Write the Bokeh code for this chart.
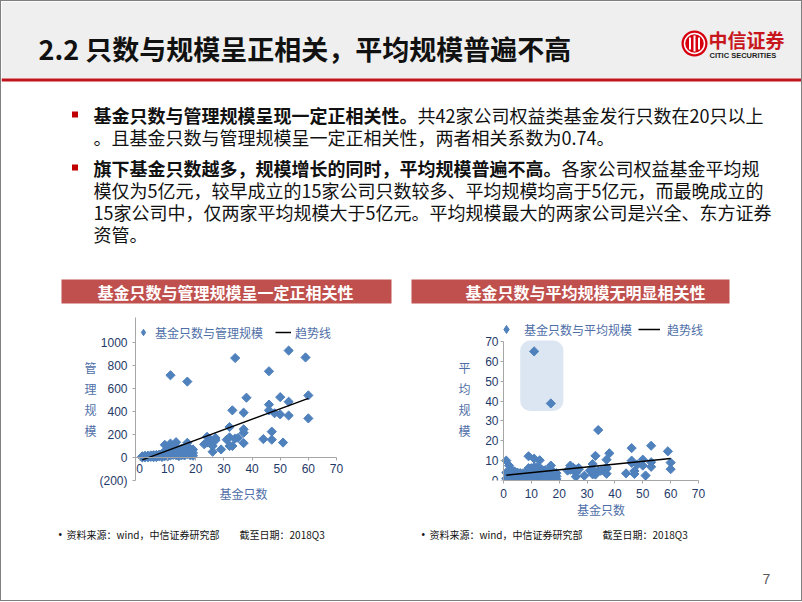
import numpy as np
from bokeh.plotting import figure
from bokeh.models import Range1d, FixedTicker, LinearAxis, Legend, LegendItem, BoxAnnotation
from bokeh.layouts import column, row
from bokeh.core.properties import value
from bokeh.embed import file_html
from bokeh.resources import INLINE

# ---------------- data ----------------
FUND_COUNT = [1, 1, 1, 2, 2, 2, 3, 3, 3, 4, 4, 5, 5, 5, 6, 6, 6, 7, 7, 8, 8, 8,
              9, 9, 9, 9, 10, 10, 10, 11, 11, 11, 11, 11, 12, 12, 12, 13, 13, 13, 13,
              14, 14, 14, 15, 15, 15, 16, 16, 16, 17, 17, 17, 17, 17, 18, 18, 18, 19, 19, 19,
              23, 24, 24, 25, 25, 26, 26, 26, 27, 27, 29,
              31, 32, 32, 32, 33, 33, 34, 34, 35, 37, 37, 37, 37, 38,
              44, 46, 46, 46, 47, 47, 48, 50, 50, 51, 53, 53, 53, 59, 60, 60]
TOTAL_SIZE = [10, 4, 1, 15, 6, 2, 16, 7, 2, 18, 6, 20, 8, 3, 22, 9, 4, 25, 10, 30, 14, 5,
              110, 56, 28, 12, 62, 30, 10, 121, 74, 40, 18, 715, 82, 48, 22, 133, 83, 50, 20,
              72, 38, 12, 78, 45, 20, 70, 40, 18, 128, 90, 55, 30, 660, 75, 42, 20, 70, 40, 15,
              115, 130, 180, 160, 140, 145, 100, 50, 170, 150, 70,
              155, 265, 175, 100, 100, 410, 165, 865, 170, 390, 245, 215, 125, 520,
              160, 750, 460, 410, 225, 155, 385, 525, 375, 130, 930, 485, 365, 870, 540, 340]
AVG_SIZE = [10.0, 4.0, 1.0, 7.5, 3.0, 1.0, 5.3, 2.3, 0.7, 4.5, 1.5, 4.0, 1.6, 0.6, 3.7, 1.5, 0.7, 3.6, 1.4, 3.8, 1.8, 0.6,
            12.2, 6.2, 3.1, 1.3, 6.2, 3.0, 1.0, 11.0, 6.7, 3.6, 1.6, 65.0, 6.8, 4.0, 1.8, 10.2, 6.4, 3.8, 1.5,
            5.1, 2.7, 0.9, 5.2, 3.0, 1.3, 4.4, 2.5, 1.1, 7.5, 5.3, 3.2, 1.8, 38.8, 4.2, 2.3, 1.1, 3.7, 2.1, 0.8,
            5.0, 5.4, 7.5, 6.4, 5.6, 5.6, 3.8, 1.9, 6.3, 5.6, 2.4,
            5.0, 8.3, 5.5, 3.1, 3.0, 12.4, 4.9, 25.4, 4.9, 10.5, 6.6, 5.8, 3.4, 13.7,
            3.6, 16.3, 10.0, 8.9, 4.8, 3.3, 8.0, 10.5, 7.5, 2.5, 17.5, 9.2, 6.9, 14.7, 9.0, 5.7]
TREND_X = [1, 60]
TREND_TOTAL = [-21, 514]
TREND_AVG = [2.7, 11.1]
X_TICKS = [0, 10, 20, 30, 40, 50, 60, 70]
TOTAL_TICKS = [-200, 0, 200, 400, 600, 800, 1000]
AVG_TICKS = [0, 10, 20, 30, 40, 50, 60, 70]
HIGHLIGHT_X = [6, 21.5]
HIGHLIGHT_Y = [35, 70.5]

TITLE = "2.2 只数与规模呈正相关，平均规模普遍不高"
BOLD_LINES = ["基金只数与管理规模呈现一定正相关性。", "旗下基金只数越多，规模增长的同时，平均规模普遍不高。"]
NORMAL_LINES = ["共42家公司权益类基金发行只数在20只以上",
                "。且基金只数与管理规模呈一定正相关性，两者相关系数为0.74。",
                "各家公司权益基金平均规",
                "模仅为5亿元，较早成立的15家公司只数较多、平均规模均高于5亿元，而最晚成立的",
                "15家公司中，仅两家平均规模大于5亿元。平均规模最大的两家公司是兴全、东方证券",
                "资管。"]
BANNERS = ["基金只数与管理规模呈一定正相关性", "基金只数与平均规模无明显相关性"]
SOURCE = "资料来源：wind，中信证券研究部\u3000\u3000截至日期：2018Q3"

CJK = "Noto Sans CJK SC"
LAT = "Liberation Sans"
BLUE = "#4F81BD"
TICK_C = "#1F3A68"
LABEL_C = "#4F6FA8"
AXIS_C = "#A6A6A6"
W = 800

# ---------------- header ----------------
hdr = figure(width=W, height=306, x_range=Range1d(0, W), y_range=Range1d(306, 0),
             output_backend="svg", toolbar_location=None, min_border=0,
             x_axis_location=None, y_axis_location=None)
hdr.grid.visible = False
hdr.outline_line_color = None
hdr.quad(left=[0], right=[W], top=[0], bottom=[77], fill_color="#EFEFEF", line_color=None)
hdr.quad(left=[0], right=[W], top=[77], bottom=[80], fill_color="#C0141C", line_color=None)
hdr.text(x=[37], y=[47], text=[TITLE], text_font=value(CJK), text_font_size="27px",
         text_font_style="bold", text_baseline="middle", text_color="#111111")
# logo
hdr.circle(x=[693], y=[42], radius=13, fill_color="#D7000F", line_color=None)
hdr.circle(x=[693], y=[42], radius=10, fill_color=None, line_color="white", line_width=1.5)
hdr.segment(x0=[688.5, 693, 697.5], y0=[36, 34, 36], x1=[688.5, 693, 697.5], y1=[48, 50, 48],
            line_color="white", line_width=2)
hdr.text(x=[707], y=[38], text=["中信证券"], text_font=value(CJK), text_font_size="19px",
         text_font_style="bold", text_baseline="middle", text_color="#C8161D")
hdr.text(x=[708], y=[54], text=["CITIC SECURITIES"], text_font=value(LAT), text_font_size="7.5px",
         text_font_style="bold", text_baseline="middle", text_color="#222222")
# bullets
hdr.scatter(x=[73.5, 73.5], y=[113, 166], marker="square", size=6, fill_color="#C00000", line_color=None)
hdr.text(x=[92, 92], y=[113, 166], text=BOLD_LINES, text_font=value(CJK), text_font_size="18px",
         text_font_style="bold", text_baseline="middle", text_color="#111111")
hdr.text(x=[416, 92, 560, 92, 92, 92], y=[113, 135, 166, 188, 210, 232], text=NORMAL_LINES,
         text_font=value(CJK), text_font_size="18px", text_baseline="middle", text_color="#111111")
# banners
hdr.quad(left=[60, 410], right=[390, 728], top=[278, 278], bottom=[302, 302],
         fill_color="#C0504D", line_color=None)
hdr.text(x=[224, 584], y=[290, 290], text=BANNERS, text_font=value(CJK), text_font_size="16px",
         text_font_style="bold", text_align="center", text_baseline="middle", text_color="white")


# ---------------- charts ----------------
def style_axis(ax):
    ax.axis_line_color = AXIS_C
    ax.major_tick_line_color = AXIS_C
    ax.major_tick_out = 3
    ax.major_tick_in = 0
    ax.minor_tick_line_color = None
    ax.major_label_text_font = LAT
    ax.major_label_text_font_size = "12px"
    ax.major_label_text_color = TICK_C
    ax.axis_label_text_font = CJK
    ax.axis_label_text_font_size = "12px"
    ax.axis_label_text_font_style = "normal"
    ax.axis_label_text_color = LABEL_C


def title_axis(label, bounds, standoff, stacked=False):
    ax = LinearAxis(ticker=FixedTicker(ticks=[]), bounds=bounds, axis_label=label)
    style_axis(ax)
    ax.axis_line_color = None
    ax.major_tick_out = 0
    ax.major_label_standoff = 0
    ax.axis_label_standoff = standoff
    if stacked:
        ax.axis_label_orientation = "horizontal"
        ax.axis_label_text_line_height = 1.25
    return ax


def chart(width, xr, yr, mbl, mbr, mbt, mbb):
    p = figure(width=width, height=221, x_range=xr, y_range=yr,
               output_backend="svg", toolbar_location=None,
               min_border_left=mbl, min_border_right=mbr, min_border_top=mbt, min_border_bottom=mbb,
               x_axis_location=None, y_axis_location=None)
    p.grid.visible = False
    p.outline_line_color = None
    return p


def make_legend(p, labels, line_r, loc, gw, standoff, spacing):
    proxy = p.scatter([np.nan], [np.nan], marker="diamond", size=11, fill_color=BLUE, line_color=BLUE)
    lg = Legend(items=[LegendItem(label=labels[0], renderers=[proxy]),
                       LegendItem(label=labels[1], renderers=[line_r])],
                orientation="horizontal", location=loc, glyph_width=gw, glyph_height=20,
                label_standoff=standoff, spacing=spacing, padding=0, margin=0,
                border_line_color=None, background_fill_alpha=0, label_text_font=CJK,
                label_text_font_size="12px", label_text_color=LABEL_C)
    p.add_layout(lg)


# left chart: frame 134..350 x 316..479 px (same vertical frame as right chart)
pl = chart(400, Range1d(-1.42, 75.33), Range1d(-200, 1217.4), 134, 50, 10, 48)
pl.add_layout(title_axis("基金只数", (0, 70), 4), "below")
xa = LinearAxis(ticker=FixedTicker(ticks=X_TICKS), fixed_location=0, bounds=(-1.42, 70))
style_axis(xa)
xa.major_label_standoff = 3
pl.add_layout(xa, "below")
ya = LinearAxis(ticker=FixedTicker(ticks=TOTAL_TICKS), axis_label="管\n理\n规\n模",
                major_label_overrides={-200: "(200)"})
style_axis(ya)
ya.major_label_standoff = 5
ya.axis_label_standoff = 0
ya.axis_label_orientation = "horizontal"
ya.axis_label_text_line_height = 1.25
pl.add_layout(ya, "left")
s1 = pl.scatter(FUND_COUNT, TOTAL_SIZE, marker="square", angle=np.pi / 4, size=6.5,
                fill_color=BLUE, line_color=BLUE)
l1 = pl.line(TREND_X, TREND_TOTAL, line_color="black", line_width=1.5)
make_legend(pl, ["基金只数与管理规模", "趋势线"], l1, (0, 138), 16, 4, 12)

# right chart: frame 484..715 x 316..479 px
pr = chart(400, Range1d(-6.46, 76.46), Range1d(0, 82.06), 84, 85, 10, 48)
pr.add_layout(BoxAnnotation(left=HIGHLIGHT_X[0], right=HIGHLIGHT_X[1], bottom=HIGHLIGHT_Y[0],
                            top=HIGHLIGHT_Y[1], fill_color="#DCE6F2", fill_alpha=1.0,
                            line_color=None, border_radius=10, level="underlay"))
xb = LinearAxis(ticker=FixedTicker(ticks=X_TICKS), bounds=(0, 70), axis_label="基金只数")
style_axis(xb)
xb.major_label_standoff = 5
xb.axis_label_standoff = 0
pr.add_layout(xb, "below")
pr.add_layout(title_axis("平\n均\n规\n模", (0, 70), 15, stacked=True), "left")
yb = LinearAxis(ticker=FixedTicker(ticks=AVG_TICKS), fixed_location=0, bounds=(0, 70))
style_axis(yb)
yb.major_label_standoff = 2
pr.add_layout(yb, "left")
s2 = pr.scatter(FUND_COUNT, AVG_SIZE, marker="square", angle=np.pi / 4, size=6.5,
                fill_color=BLUE, line_color=BLUE)
l2 = pr.line(TREND_X, TREND_AVG, line_color="black", line_width=1.5)
make_legend(pr, ["基金只数与平均规模", "趋势线"], l2, (10, 141), 22, 7, 6)

# ---------------- footer ----------------
ftr = figure(width=W, height=72, x_range=Range1d(0, W), y_range=Range1d(599, 527),
             output_backend="svg", toolbar_location=None, min_border=0,
             x_axis_location=None, y_axis_location=None)
ftr.grid.visible = False
ftr.outline_line_color = None
ftr.text(x=[57, 420], y=[533, 533], text=["•", "•"], text_font=value(LAT), text_font_size="10px",
         text_baseline="middle", text_color="#111111")
ftr.text(x=[65, 428], y=[533, 533], text=[SOURCE, SOURCE], text_font=value(CJK), text_font_size="10px",
         text_baseline="middle", text_color="#111111")
ftr.text(x=[765], y=[577], text=["7"], text_font=value(LAT), text_font_size="14px",
         text_align="center", text_baseline="middle", text_color="#595959")

layout = column(hdr, row(pl, pr), ftr, styles={"border": "1px solid #7F7F7F"})
open("out.html", "w").write(file_html(layout, INLINE))
